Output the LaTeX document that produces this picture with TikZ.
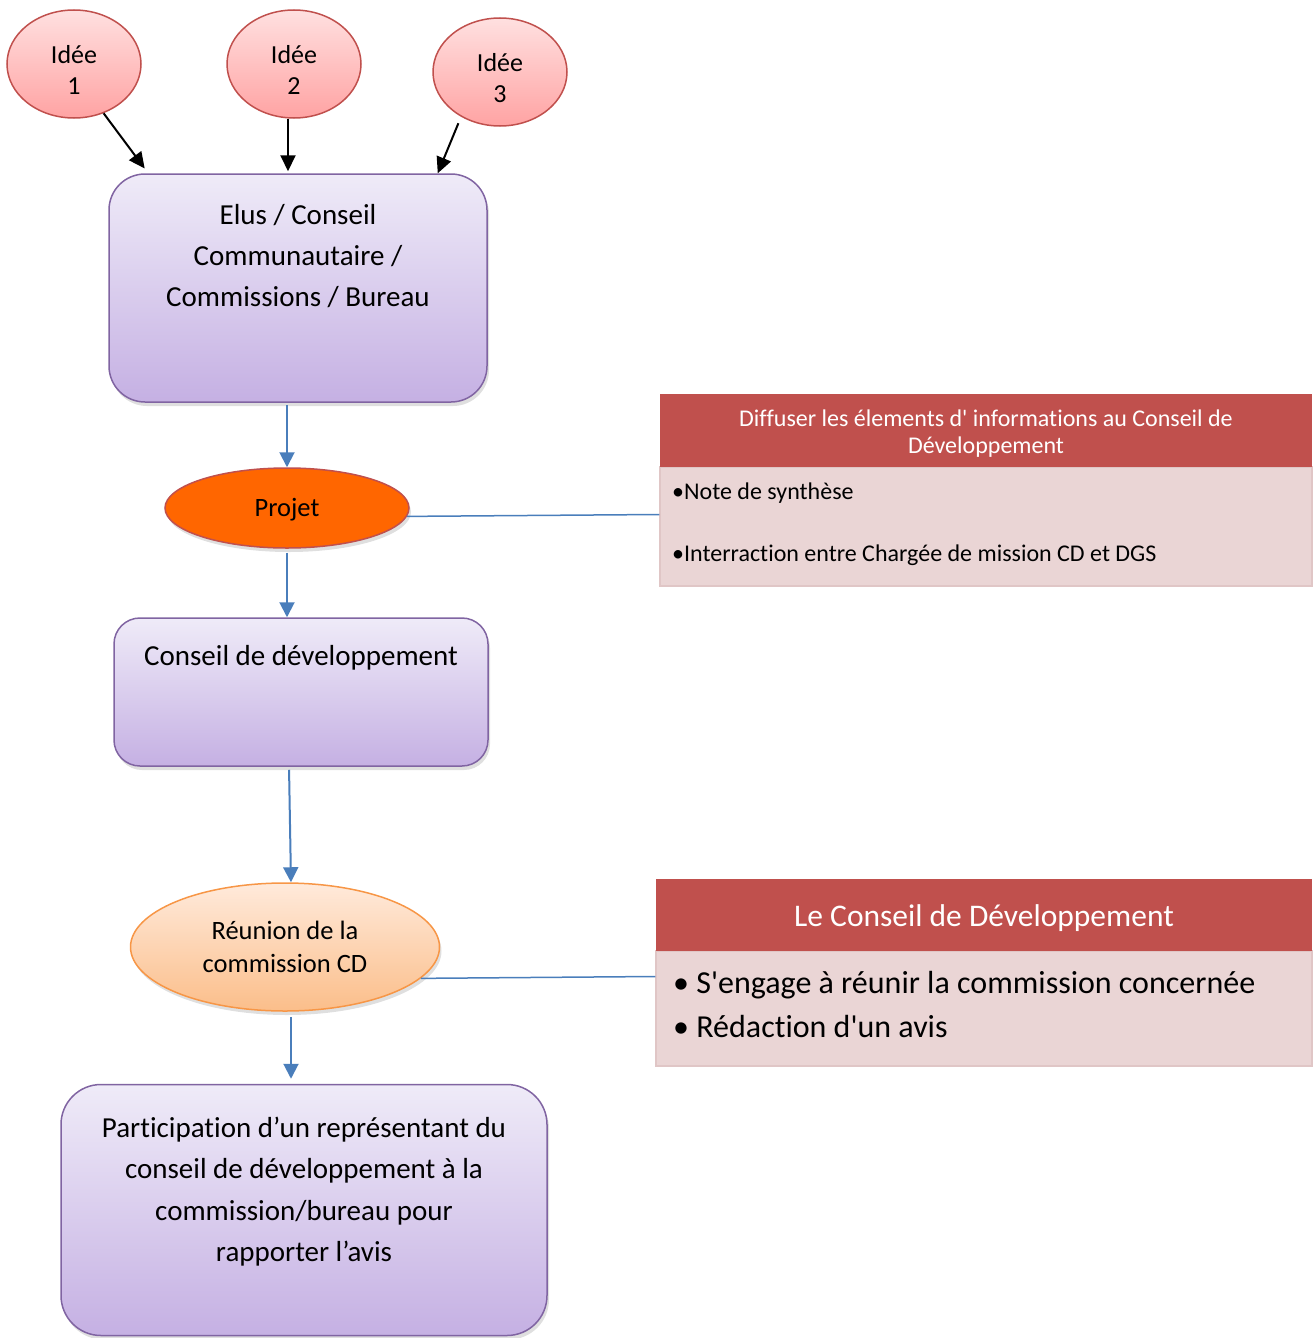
\documentclass[tikz,border=0pt]{standalone}
\usepackage{fontspec}
\setmainfont{Carlito}[Ligatures={TeXOff,NoCommon}]
\usetikzlibrary{shapes.geometric,arrows.meta,shadows}

\definecolor{ideeline}{HTML}{C0504D}
\definecolor{ideetop}{HTML}{FFE0E0}
\definecolor{ideebot}{HTML}{FFA3A3}
\definecolor{boxline}{HTML}{8064A2}
\definecolor{boxtop}{HTML}{EFEBF8}
\definecolor{boxbot}{HTML}{C5B0E3}
\definecolor{projetfill}{HTML}{FF6600}
\definecolor{reuline}{HTML}{F79646}
\definecolor{reutop}{HTML}{FFEADB}
\definecolor{reubot}{HTML}{FBBE8A}
\definecolor{flowblue}{HTML}{4A7EBB}
\definecolor{hdrred}{HTML}{C0504D}
\definecolor{notefill}{HTML}{EAD5D5}
\definecolor{noteline}{HTML}{E0C6C6}

\begin{document}
\begin{tikzpicture}[x=1pt,y=-1pt,
		softshadow/.style={drop shadow={opacity=0.25,shadow xshift=2pt,shadow yshift=-4pt}},
		idee/.style={ellipse,draw=ideeline,line width=1.5pt,top color=ideetop,bottom color=ideebot,
			minimum width=134pt,minimum height=108pt,inner sep=0pt},
		ideetxt/.style={align=center,inner sep=0pt,font=\fontsize{26}{31}\selectfont},
		etape/.style={rectangle,rounded corners=36pt,draw=boxline,line width=1.5pt,
			top color=boxtop,bottom color=boxbot,softshadow},
		etapetxt/.style={align=center,inner sep=0pt,font=\fontsize{29}{41.3}\selectfont},
		hdr/.style={rectangle,fill=hdrred,minimum height=73pt},
		hdrtxt/.style={text=white,inner sep=0pt,align=center},
		note/.style={rectangle,fill=notefill,draw=noteline,line width=1.5pt,inner sep=0pt},
		item/.style={anchor=west,inner sep=0pt},
		noir/.style={draw=black,line width=2pt,-{Triangle[length=16pt,width=15pt]}},
		bleu/.style={draw=flowblue,line width=2pt,-{Triangle[length=15pt,width=15pt]}},
		lien/.style={draw=flowblue,line width=1.5pt}
	]
	\useasboundingbox (0,0) rectangle (1312,1338);

	% idees
	\node[idee] (idee1) at (74,64) {};
	\node[idee] (idee2) at (294,64) {};
	\node[idee] (idee3) at (500,72) {};
	\node[ideetxt] (t1) at (74,70) {Idée\\1};
	\node[ideetxt] (t2) at (294,70) {Idée\\2};
	\node[ideetxt] (t3) at (500,78) {Idée\\3};

	% colonne centrale
	\node[etape,minimum width=378pt,minimum height=228pt] (elus) at (298,288) {};
	\node[etapetxt] (elustxt) at (298,256) {Elus / Conseil\\Communautaire /\\Commissions / Bureau};

	\node[ellipse,draw=ideeline,line width=1.5pt,fill=projetfill,minimum width=244pt,minimum height=80pt,
		softshadow] (projet) at (287,508) {};
	\node[inner sep=0pt,font=\fontsize{26.5}{31}\selectfont] (projettxt) at (287,510) {Projet};

	\node[etape,rounded corners=26pt,minimum width=374pt,minimum height=148pt] (conseil) at (301,692) {};
	\node[etapetxt] (conseiltxt) at (301,658) {Conseil de développement};

	\node[ellipse,draw=reuline,line width=1.5pt,top color=reutop,bottom color=reubot,
		minimum width=309pt,minimum height=128pt,softshadow,align=center,
		font=\fontsize{26.5}{33}\selectfont] (reunion) at (285,947) {Réunion de la\\commission CD};

	\node[etape,rounded corners=40pt,minimum width=486pt,minimum height=251pt] (part) at (304,1210) {};
	\node[etapetxt] (parttxt) at (304,1191.5) {Participation d’un représentant du\\conseil de développement à la\\commission/bureau pour\\rapporter l’avis};

	% encadres de droite
	\node[note,minimum width=652pt,minimum height=119pt] (note1) at (986,526.5) {};
	\node[hdr,minimum width=652pt] (hdr1) at (986,430.5) {};
	\node[hdrtxt,font=\fontsize{24}{27}\selectfont] (hdr1txt) at (986,434)
		{Diffuser les élements d' informations au Conseil de\\Développement};
	\node[item,font=\fontsize{24}{27}\selectfont] (n1a) at (672,493) {•Note de synthèse};
	\node[item,font=\fontsize{24}{27}\selectfont] (n1b) at (672,555) {•Interraction entre Chargée de mission CD et DGS};

	\node[note,minimum width=656pt,minimum height=115pt] (note2) at (984,1008.5) {};
	\node[hdr,minimum width=656pt,minimum height=72pt] (hdr2) at (984,915) {};
	\node[hdrtxt,font=\fontsize{31.5}{36}\selectfont] (hdr2txt) at (984,918) {Le Conseil de Développement};
	\node[item,font=\fontsize{32}{36}\selectfont] (n2a) at (673,985) {• S'engage à réunir la commission concernée};
	\node[item,font=\fontsize{32}{36}\selectfont] (n2b) at (673,1026) {• Rédaction d'un avis};

	% fleches
	\draw[noir,shorten >=6pt] (idee1.-59) -- ([xshift=40pt]elus.north west);
	\draw[noir,shorten >=2pt] ([xshift=-6pt]idee2.south) -- ([xshift=-10pt]elus.north);
	\draw[noir,shorten <=7pt] (idee3.229) -- ([xshift=-50pt]elus.north east);

	\draw[bleu,shorten <=2pt] ([xshift=-11pt]elus.south) -- (projet.north);
	\draw[bleu,shorten <=4pt] (projet.south) -- (projet.south |- conseil.north);
	\draw[bleu,shorten <=3pt] ([xshift=-12pt]conseil.south) -- ([xshift=6pt]reunion.north);
	\draw[bleu,shorten <=5pt,shorten >=5pt] ([xshift=6pt]reunion.south) -- ([xshift=-13pt]part.north);

	\draw[lien] (projet.-4) -- ([yshift=12pt]note1.west);
	\draw[lien] (reunion.-13) -- ([yshift=32pt]note2.west);
\end{tikzpicture}
\end{document}
